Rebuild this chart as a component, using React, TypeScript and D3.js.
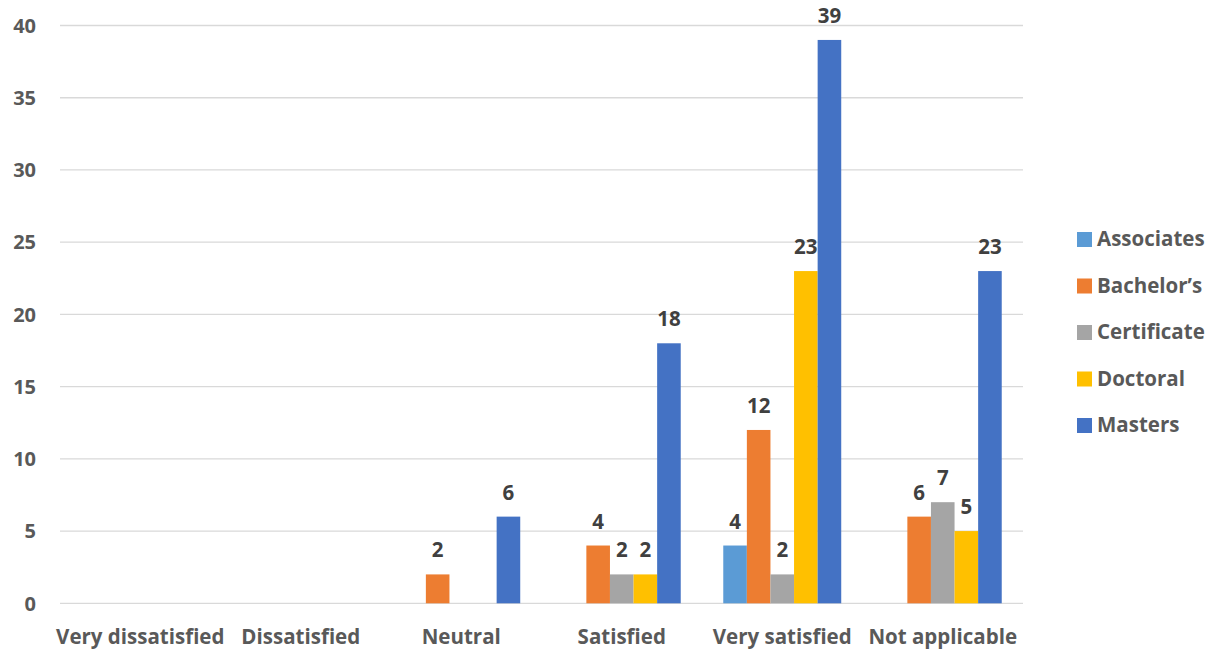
import React from "react";
import * as d3 from "d3";

const categories = ["Very dissatisfied", "Dissatisfied", "Neutral", "Satisfied", "Very satisfied", "Not applicable"];
const seriesNames = ["Associates", "Bachelor’s", "Certificate", "Doctoral", "Masters"];
const associates: (number | null)[] = [null, null, null, null, 4, null];
const bachelors: (number | null)[] = [null, null, 2, 4, 12, 6];
const certificate: (number | null)[] = [null, null, null, 2, 2, 7];
const doctoral: (number | null)[] = [null, null, null, 2, 23, 5];
const masters: (number | null)[] = [null, null, 6, 18, 39, 23];
const yTicks = [0, 5, 10, 15, 20, 25, 30, 35, 40];
const colors = ["#5B9BD5", "#ED7D31", "#A5A5A5", "#FFC000", "#4472C4"];

const seriesValues = [associates, bachelors, certificate, doctoral, masters];

const W = 1221;
const H = 652;
const left = 60;
const right = 1023;
const top = 25.5;
const bottom = 603.3;
const font = "'Open Sans', 'Liberation Sans', sans-serif";

export default function App() {
  const x0 = d3.scaleBand<string>().domain(categories).range([left, right]).paddingInner(0.265).paddingOuter(0.1325);
  const x1 = d3.scaleBand<string>().domain(seriesNames).range([0, x0.bandwidth()]);
  const y = d3.scaleLinear().domain([0, 40]).range([bottom, top]);

  return (
    <svg width={W} height={H} style={{ position: "absolute", left: 0, top: 0, background: "#fff" }}>
      {yTicks.map((t) => (
        <g key={t}>
          <line x1={left} x2={right} y1={y(t)} y2={y(t)} stroke="#D9D9D9" strokeWidth={1.3} />
          <text x={36} y={y(t)} dy="0.36em" textAnchor="end" fontFamily={font} fontWeight={700} fontSize={20} fill="#595959">
            {t}
          </text>
        </g>
      ))}
      {seriesValues.map((vals, si) =>
        vals.map((v, ci) => {
          if (v == null) return null;
          const bx = (x0(categories[ci]) as number) + (x1(seriesNames[si]) as number);
          const bw = x1.bandwidth();
          return (
            <g key={`${si}-${ci}`}>
              <rect x={bx} y={y(v)} width={bw} height={y(0) - y(v)} fill={colors[si]} />
              <text x={bx + bw / 2} y={y(v) - 17} textAnchor="middle" fontFamily={font} fontWeight={700} fontSize={20.5} fill="#404040">
                {v}
              </text>
            </g>
          );
        })
      )}
      {categories.map((c) => (
        <text key={c} x={(x0(c) as number) + x0.bandwidth() / 2} y={644} textAnchor="middle" fontFamily={font} fontWeight={700} fontSize={20.5} fill="#595959">
          {c}
        </text>
      ))}
      {seriesNames.map((s, i) => {
        const ly = 239 + i * 46.5;
        return (
          <g key={s}>
            <rect x={1077} y={ly - 7} width={15} height={15} fill={colors[i]} />
            <text x={1097} y={ly} dy="0.36em" fontFamily={font} fontWeight={700} fontSize={20.5} fill="#595959">
              {s}
            </text>
          </g>
        );
      })}
    </svg>
  );
}
